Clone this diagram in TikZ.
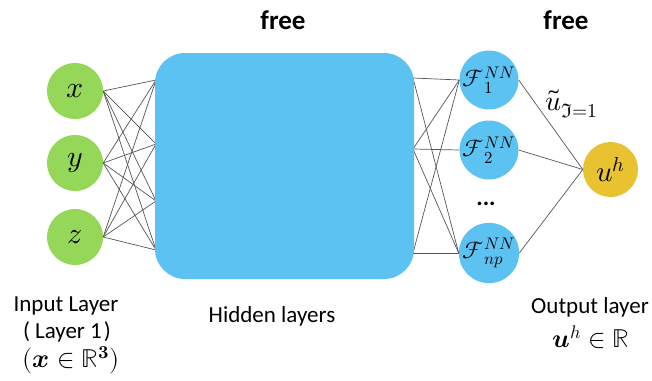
\documentclass[tikz,border=0pt]{standalone}
\usepackage{fontspec}
\usepackage{unicode-math}
\setmainfont{Carlito}
\definecolor{ingreen}{HTML}{95D859}
\definecolor{hblue}{HTML}{5BC2F2}
\definecolor{ugold}{HTML}{E9C232}
\definecolor{linegray}{HTML}{555555}
\tikzset{
  inp/.style={circle, fill=ingreen, minimum size=56pt, inner sep=0pt, font=\fontsize{30}{30}\selectfont},
  fnode/.style={circle, fill=hblue, minimum size=55pt, inner sep=0pt, font=\fontsize{24}{24}\selectfont},
  outn/.style={circle, fill=ugold, minimum size=55pt, inner sep=0pt, font=\fontsize{29}{29}\selectfont},
  hid/.style={fill=hblue, rounded corners=30pt, minimum width=259pt, minimum height=226pt, inner sep=0pt},
  conn/.style={draw=linegray, line width=0.7pt},
  lbl/.style={font=\fontsize{23}{28}\selectfont, align=center, inner sep=0pt},
  mlbl/.style={font=\fontsize{26}{28}\selectfont, align=center, inner sep=0pt},
  toplbl/.style={font=\fontsize{27}{30}\selectfont\bfseries, inner sep=0pt},
}
\begin{document}
\begin{tikzpicture}[x=1pt, y=-1pt]
\useasboundingbox (0,0) rectangle (652,380);
% input layer
\node[inp] (x) at (75,91) {$x$};
\node[inp] (y) at (75,163) {$y$};
\node[inp] (z) at (75,237) {$z$};
% hidden block ports
\coordinate (hl1) at (156,80);
\coordinate (hl2) at (156,144);
\coordinate (hl3) at (156,201);
\coordinate (hl4) at (156,250);
\coordinate (hr1) at (413,78);
\coordinate (hr2) at (413,149);
\coordinate (hr3) at (413,253);
% output nodes
\node[fnode] (F1) at (489,80) {$\mathcal{F}_{1}^{NN}$};
\node[fnode] (F2) at (489,150) {$\mathcal{F}_{2}^{NN}$};
\node[fnode] (Fn) at (489,253) {$\mathcal{F}_{np}^{NN}$};
\node[font=\fontsize{24}{24}\selectfont\bfseries, anchor=base, inner sep=0pt] (dots) at (486,205) {...};
\node[outn] (U) at (610.5,169.5) {$\symscr{u}^{h}$};
% connectors
\foreach \a in {x,y,z}
  \foreach \b in {hl1,hl2,hl3,hl4}
    \draw[conn] (\a.east) -- (\b);
\foreach \a/\b in {hr1/F1,hr1/Fn,hr2/F1,hr2/F2,hr2/Fn,hr3/F1,hr3/Fn}
  \draw[conn] (\a) -- (\b.west);
\foreach \a in {F1,F2,Fn}
  \draw[conn] (\a.east) -- (U.west);
% hidden block
\node[hid] (H) at (284.5,166) {};
% labels
\node[toplbl] (free1) at (283,20) {free};
\node[toplbl] (free2) at (566,20) {free};
\node[font=\fontsize{28}{28}\selectfont, inner sep=0pt] (ul) at (572,104) {$\widetilde{\symscr{u}}_{\symfrak{I}=1}$};
\node[lbl] (in1) at (66,306) {Input Layer};
\node[lbl] (in2) at (67,332) {(\hspace{5pt}Layer 1\hspace{2pt})};
\node[mlbl] (in3) at (71,360) {$(\symbfit{x}\in\symbb{R}^{\symbf{3}})$};
\node[lbl] (hl) at (272,316) {Hidden layers};
\node[lbl] (out1) at (590,307) {Output layer};
\node[mlbl] (out2) at (591,337) {$\symbfit{u}^{h}\in\symbb{R}$};
\end{tikzpicture}
\end{document}
